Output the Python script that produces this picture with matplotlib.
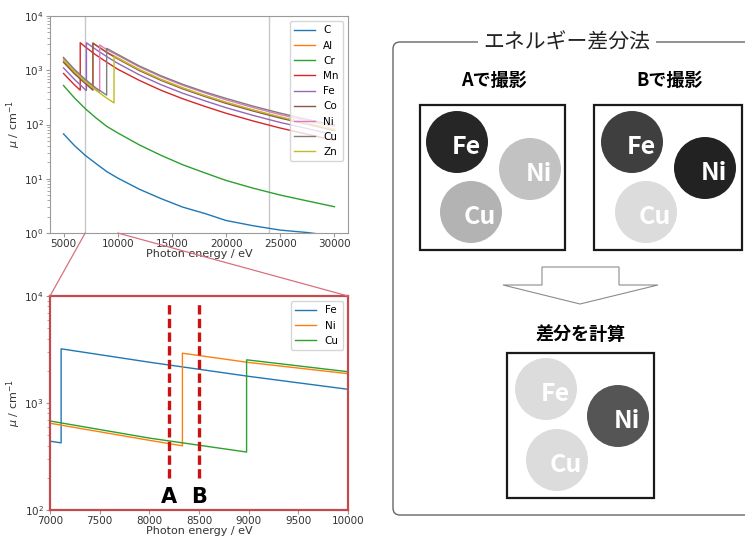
import matplotlib
matplotlib.use("Agg")
import matplotlib.pyplot as plt
from matplotlib.patches import Circle, Rectangle, FancyBboxPatch, Polygon, ConnectionPatch

# ------------------------------------------
# Attenuation data (cm^-1) on a photon-energy grid (eV)
# ------------------------------------------

energy = [5000, 6000, 7000, 8000, 9000, 10000, 12000, 14000, 16000,
          18000, 20000, 22500, 25000, 27500, 30000]

elements = ["C", "Al", "Cr", "Mn", "Fe", "Co", "Ni", "Cu", "Zn"]

mu_C = [67, 41, 27, 19, 13.5, 10.3, 6.4, 4.3, 3.0, 2.3, 1.7, 1.36, 1.13, 1.02, 0.88]
mu_Al = [1480, 905, 595, 2920, 2160, 1680, 1025, 676, 472, 343, 255, 184, 136, 105, 80]
mu_Cr = [522, 310, 196, 132, 92, 70, 42, 27, 18.1, 12.9, 9.3, 6.7, 5.0, 3.9, 3.05]
mu_Mn = [870, 540, 2700, 1907, 1404, 1045, 649, 427, 298, 217, 161, 116, 86, 66, 51]
mu_Fe = [1103, 680, 440, 2406, 1775, 1343, 821, 541, 377, 275, 204, 147, 109, 84, 64]
mu_Co = [1400, 860, 570, 2870, 2112, 1620, 985, 650, 453, 330, 245, 177, 131, 101, 77]
mu_Ni = [1640, 1000, 647, 448, 2392, 1880, 1149, 758, 528, 384, 285, 205, 152, 117, 92]
mu_Cu = [1720, 1042, 679, 470, 2520, 1960, 1198, 790, 551, 401, 303, 218, 162, 124, 98]
mu_Zn = [1560, 945, 615, 425, 305, 1672, 1022, 674, 470, 342, 257, 185, 138, 105, 82]

# K edges: energy, value just below, value just above (None = no edge in range)
k_edge = [None, 7709, None, 6539, 7112, 7709, 8333, 8979, 9659]
edge_low = [None, 450, None, 430, 424, 430, 398, 348, 250]
edge_high = [None, 3200, None, 3220, 3209, 3160, 2920, 2530, 1830]

mu_all = [mu_C, mu_Al, mu_Cr, mu_Mn, mu_Fe, mu_Co, mu_Ni, mu_Cu, mu_Zn]

zoom_elements = ["Fe", "Ni", "Cu"]

# imaging energies for the two shots
energy_A = 8200
energy_B = 8500


def with_edge(e_grid, mu, edge, low, high):
    if edge is None:
        return list(e_grid), list(mu)
    below = [(e, m) for e, m in zip(e_grid, mu) if e < edge]
    above = [(e, m) for e, m in zip(e_grid, mu) if e > edge]
    pts = below + [(edge, low), (edge, high)] + above
    xs, ys = zip(*pts)
    return list(xs), list(ys)


curves = {}
for i, name in enumerate(elements):
    curves[name] = with_edge(energy, mu_all[i], k_edge[i], edge_low[i], edge_high[i])


# ------------------------------------------
# Figure
# ------------------------------------------

plt.rcParams["font.size"] = 7.5

fig = plt.figure(figsize=(7.45, 5.41), dpi=100)

FRAME_GREY = "#9a9a9a"
TEXT_GREY = "#333333"
ZOOM_RED = "#c44a4f"
LABEL_SIZE = 8.0

ax_top = fig.add_axes([50 / 745, 1 - 233 / 541, 298 / 745, 217 / 541])
ax_bot = fig.add_axes([50 / 745, 1 - 510 / 541, 298 / 745, 214 / 541])

# full range
for i, name in enumerate(elements):
    xs, ys = curves[name]
    ax_top.plot(xs, ys, color=f"C{i}", lw=1.0, label=name)

ax_top.axvline(7000, color="#c8c8c8", lw=1.0, zorder=0)
ax_top.axvline(24000, color="#c8c8c8", lw=1.0, zorder=0)
ax_top.set_yscale("log")
ax_top.set_ylim(1, 1e4)
ax_top.set_xticks([5000, 10000, 15000, 20000, 25000, 30000])
ax_top.set_xlabel("Photon energy / eV", labelpad=0, color=TEXT_GREY,
                  fontsize=LABEL_SIZE)
ax_top.set_ylabel(r"$\mu$ / cm$^{-1}$", labelpad=1, color=TEXT_GREY,
                  fontsize=LABEL_SIZE)
ax_top.legend(loc="upper right", fontsize=7.5)

for sp in ax_top.spines.values():
    sp.set_color(FRAME_GREY)
ax_top.tick_params(which="both", color=FRAME_GREY, labelcolor=TEXT_GREY, pad=1.5)
ax_top.tick_params(which="major", length=3)

# zoom around the Fe / Ni / Cu K edges
for i, name in enumerate(zoom_elements):
    xs, ys = curves[name]
    ax_bot.plot(xs, ys, color=f"C{i}", lw=1.0, label=name)

for e in [energy_A, energy_B]:
    ax_bot.plot([e, e], [200, 9000], color="#cc1111", lw=2.4,
                dashes=(2.8, 1.3), zorder=3)

ax_bot.text(energy_A, 132, "A", ha="center", va="center",
            fontsize=15, fontweight="bold")
ax_bot.text(energy_B, 132, "B", ha="center", va="center",
            fontsize=15, fontweight="bold")

ax_bot.set_yscale("log")
ax_bot.set_xlim(7000, 10000)
ax_bot.set_ylim(100, 1e4)
ax_bot.set_xlabel("Photon energy / eV", labelpad=0, color=TEXT_GREY,
                  fontsize=LABEL_SIZE)
ax_bot.set_ylabel(r"$\mu$ / cm$^{-1}$", labelpad=1, color=TEXT_GREY,
                  fontsize=LABEL_SIZE)
ax_bot.legend(loc="upper right", fontsize=7.5)

for sp in ax_bot.spines.values():
    sp.set_color(ZOOM_RED)
    sp.set_linewidth(1.6)
ax_bot.tick_params(which="both", color=FRAME_GREY, labelcolor=TEXT_GREY, pad=1.5)
ax_bot.tick_params(which="major", length=3)

# lines linking the zoomed window to its range on the full plot
for e in [7000, 10000]:
    con = ConnectionPatch(xyA=(e, 1), coordsA="data", axesA=ax_top,
                          xyB=(e, 1e4), coordsB="data", axesB=ax_bot,
                          color="#d8707e", lw=0.9)
    fig.add_artist(con)


# ------------------------------------------
# Energy subtraction schematic (pixel coordinates)
# ------------------------------------------

ax_r = fig.add_axes([0, 0, 1, 1])
ax_r.set_xlim(0, 745)
ax_r.set_ylim(541, 0)
ax_r.axis("off")

JP = ["Noto Sans CJK JP", "DejaVu Sans"]

outer = FancyBboxPatch((393, 42), 380, 473,
                       boxstyle="round,pad=0,rounding_size=7",
                       facecolor="none", edgecolor="#666666", lw=1.0)
ax_r.add_patch(outer)
ax_r.text(567, 42, "エネルギー差分法", ha="center", va="center",
          fontsize=15, family=JP, color="#222222",
          bbox=dict(facecolor="white", edgecolor="none", pad=4))

ax_r.text(494, 80, "Aで撮影", ha="center", va="center",
          fontsize=13, fontweight="bold", family=JP)
ax_r.text(670, 80, "Bで撮影", ha="center", va="center",
          fontsize=13, fontweight="bold", family=JP)
ax_r.text(581, 334, "差分を計算", ha="center", va="center",
          fontsize=13, fontweight="bold", family=JP)

for x0, y0, x1, y1 in [(420, 105, 565, 250), (594, 105, 742, 250),
                       (507, 353, 654, 498)]:
    ax_r.add_patch(Rectangle((x0, y0), x1 - x0, y1 - y0, facecolor="none",
                             edgecolor="#1a1a1a", lw=1.6))

# (centre x, centre y, grey level, label)
spots = [
    (457, 142, "#262626", "Fe"), (530, 169, "#c2c2c2", "Ni"), (471, 212, "#b3b3b3", "Cu"),
    (632, 142, "#3f3f3f", "Fe"), (705, 168, "#222222", "Ni"), (646, 212, "#dcdcdc", "Cu"),
    (546, 389, "#dcdcdc", "Fe"), (618, 416, "#555555", "Ni"), (557, 460, "#dcdcdc", "Cu"),
]
for cx, cy, col, lab in spots:
    ax_r.add_patch(Circle((cx, cy), 31, facecolor=col, edgecolor="none"))
    ax_r.text(cx + 9, cy + 5, lab, ha="center", va="center", color="white",
              fontsize=18, fontweight="bold", family=JP)

arrow = Polygon([(542, 267), (619, 267), (619, 285), (658, 285), (580, 304),
                 (503, 285), (542, 285)], closed=True,
                facecolor="white", edgecolor="#8c8c8c", lw=0.8)
ax_r.add_patch(arrow)

fig.savefig("out.png", dpi=100)
